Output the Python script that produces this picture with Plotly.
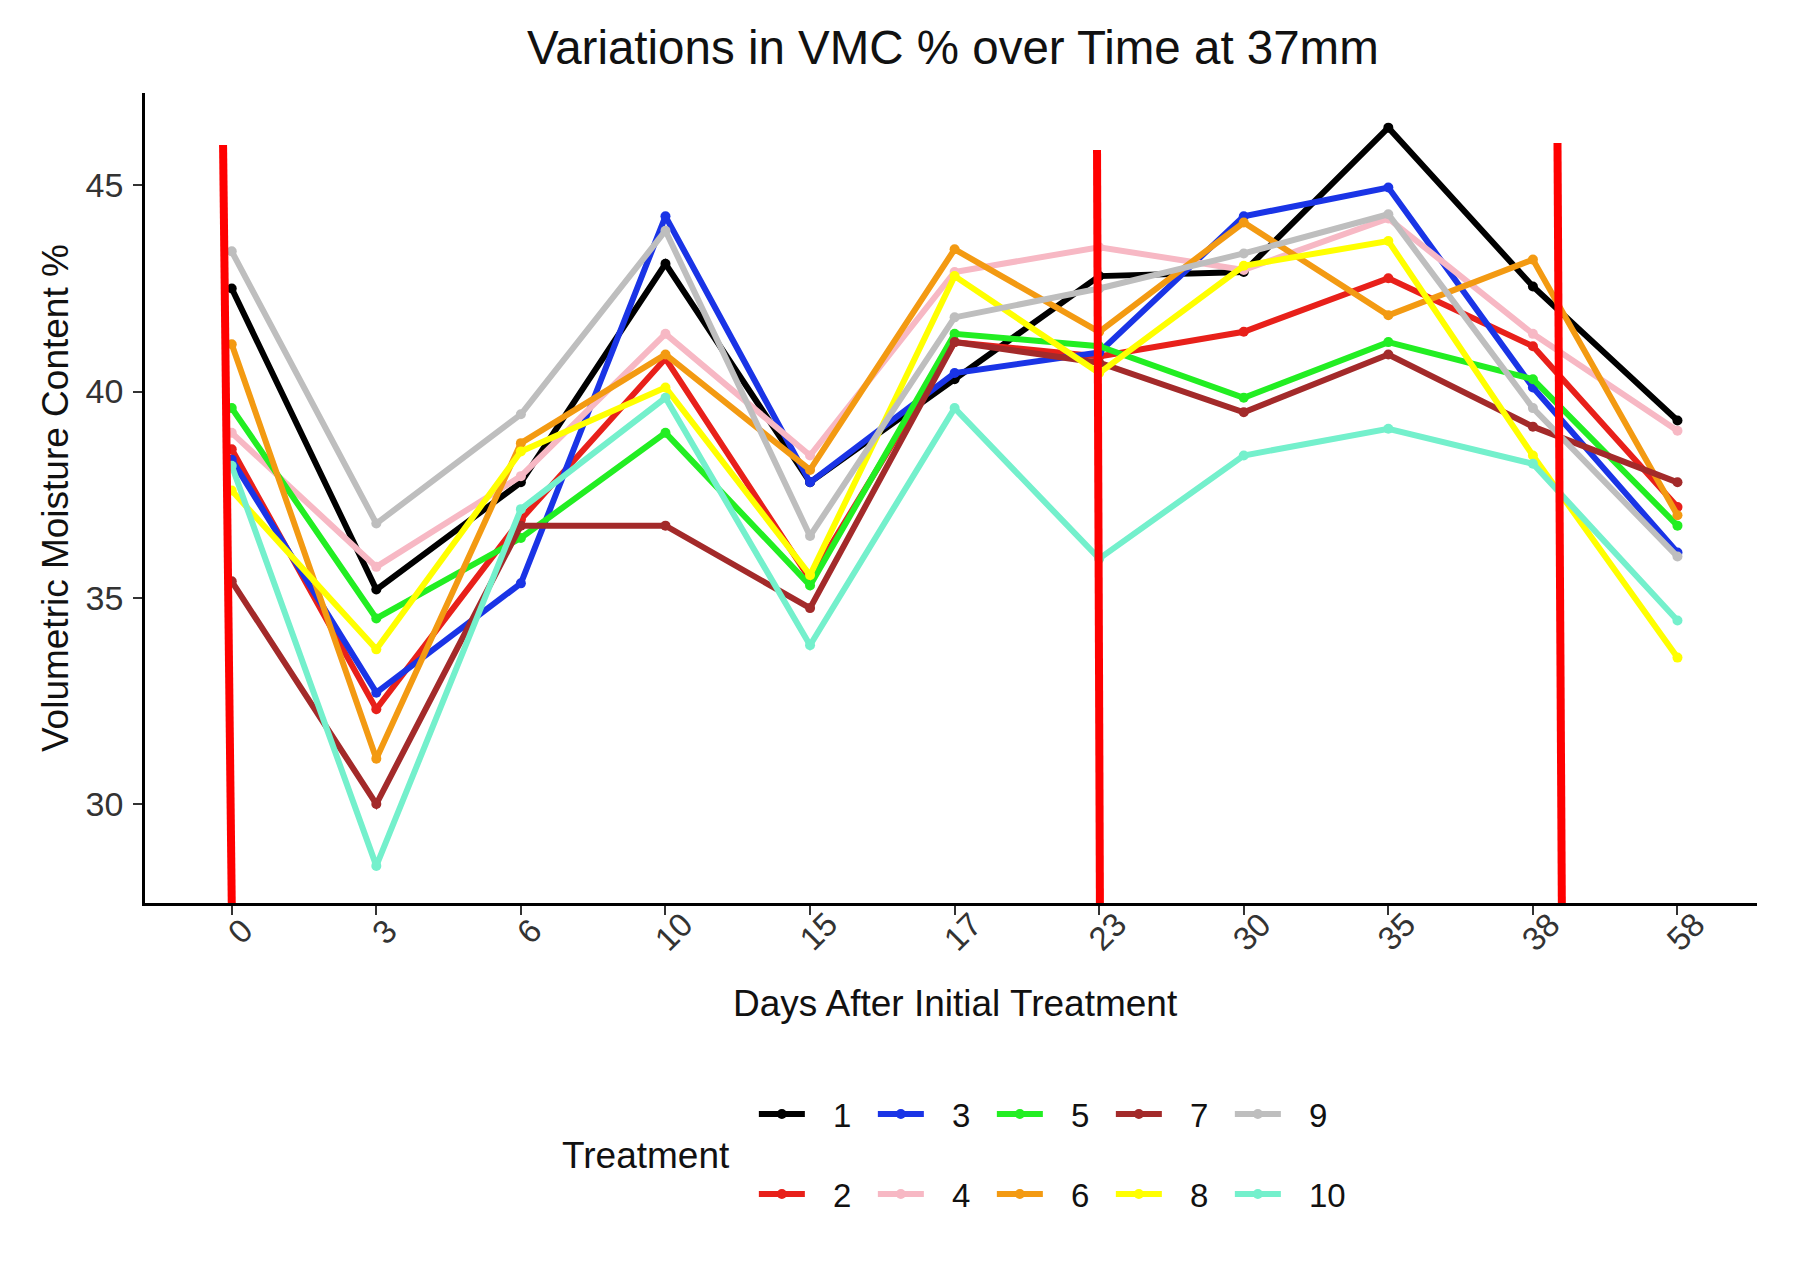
import plotly.graph_objects as go

# Sampling days (plotted as evenly spaced categories)
days = ["0", "3", "6", "10", "15", "17", "23", "30", "35", "38", "58"]

# Volumetric moisture content (%) per treatment
t1 = [42.5, 35.2, 37.8, 43.1, 37.8, 40.3, 42.8, 42.9, 46.4, 42.55, 39.3]
t2 = [38.6, 32.3, 36.9, 40.8, 35.45, 41.2, 40.85, 41.45, 42.75, 41.1, 37.2]
t3 = [38.35, 32.7, 35.35, 44.25, 37.8, 40.45, 40.95, 44.25, 44.95, 40.1, 36.1]
t4 = [39.0, 35.75, 37.95, 41.4, 38.45, 42.9, 43.5, 42.95, 44.2, 41.4, 39.05]
t5 = [39.6, 34.5, 36.45, 39.0, 35.3, 41.4, 41.1, 39.85, 41.2, 40.3, 36.75]
t6 = [41.15, 31.1, 38.75, 40.9, 38.1, 43.45, 41.45, 44.1, 41.85, 43.2, 37.0]
t7 = [35.4, 30.0, 36.75, 36.75, 34.75, 41.2, 40.7, 39.5, 40.9, 39.15, 37.8]
t8 = [37.6, 33.75, 38.55, 40.1, 35.55, 42.8, 40.45, 43.05, 43.65, 38.45, 33.55]
t9 = [43.4, 36.8, 39.45, 43.9, 36.5, 41.8, 42.5, 43.35, 44.3, 39.6, 36.0]
t10 = [38.2, 28.5, 37.15, 39.85, 33.85, 39.6, 35.95, 38.45, 39.1, 38.25, 34.45]

treatments = ["1", "2", "3", "4", "5", "6", "7", "8", "9", "10"]
series = [t1, t2, t3, t4, t5, t6, t7, t8, t9, t10]
colors = ["#000000", "#e8201a", "#1a34e6", "#f7b8c4", "#22ee22",
          "#f39a12", "#a32a2a", "#ffff00", "#bebebe", "#74f0cc"]

# Event markers (positions on the category axis, top / bottom ends)
event_top = [-0.06, 5.985, 9.17]
event_bottom = [0.0, 6.005, 9.2]
event_top_value = [45.98, 45.86, 46.03]

FONT = "Liberation Sans"
KEY_GAP = "\u2002\u2009"  # space between legend key and its label

fig = go.Figure()
for name, vals, col in zip(treatments, series, colors):
    fig.add_trace(go.Scatter(
        x=days, y=vals, name=KEY_GAP + name, mode="lines+markers",
        line=dict(color=col, width=6),
        marker=dict(color=col, size=10),
        legend="legend" if int(name) % 2 == 1 else "legend2",
        showlegend=True,
    ))

shapes = []
for xt, xb, yt in zip(event_top, event_bottom, event_top_value):
    shapes.append(dict(type="line", xref="x", yref="y", x0=xt, y0=yt, x1=xb, y1=27.6,
                       line=dict(color="#ff0000", width=8), layer="above"))


def label(text, x, y, size, angle=0, xref="paper", xshift=0):
    return dict(text=text, xref=xref, yref="paper", x=x, y=y, xshift=xshift,
                textangle=angle, showarrow=False, xanchor="center", yanchor="middle",
                font=dict(family=FONT, size=size, color="#111"))


annotations = [
    label("Variations in VMC % over Time at 37mm", 0.5015, 1.0556, 47.5),
    label("Days After Initial Treatment", 0.5025, -0.1235, 37),
    label("Volumetric Moisture Content %", -0.0558, 0.5, 37, angle=-90),
    label("Treatment", 0.311, -0.312, 37),
]
# Rotated day labels, centred under each tick
for i, d in enumerate(days):
    a = label(d, i, -0.035, 33, angle=-45, xref="x", xshift=8)
    a["font"]["color"] = "#333"
    annotations.append(a)

legend_common = dict(orientation="h", xref="paper", yref="paper", xanchor="left",
                     yanchor="middle", font=dict(family=FONT, size=33, color="#111"),
                     bgcolor="rgba(0,0,0,0)", itemwidth=46, entrywidth=58,
                     entrywidthmode="pixels", traceorder="normal")

fig.update_layout(
    width=1795, height=1262,
    margin=dict(l=145, r=38, t=93, b=359),
    paper_bgcolor="white", plot_bgcolor="white",
    font=dict(family=FONT),
    shapes=shapes, annotations=annotations,
    legend=dict(x=0.3777, y=-0.2605, **legend_common),
    legend2=dict(x=0.3777, y=-0.3593, **legend_common),
    xaxis=dict(type="category", categoryorder="array", categoryarray=days,
               range=[-0.6, 10.55], showline=True, linecolor="black", linewidth=2.5,
               ticks="outside", ticklen=9, tickwidth=2, tickcolor="#333",
               showticklabels=False, showgrid=False, zeroline=False),
    yaxis=dict(range=[27.6, 47.24], tickvals=[30, 35, 40, 45], showline=True,
               linecolor="black", linewidth=2.5, ticks="outside", ticklen=9,
               tickwidth=2, tickcolor="#333", showgrid=False, zeroline=False,
               ticklabelstandoff=3,
               tickfont=dict(family=FONT, size=34, color="#333")),
)

fig.write_html("out.html")
